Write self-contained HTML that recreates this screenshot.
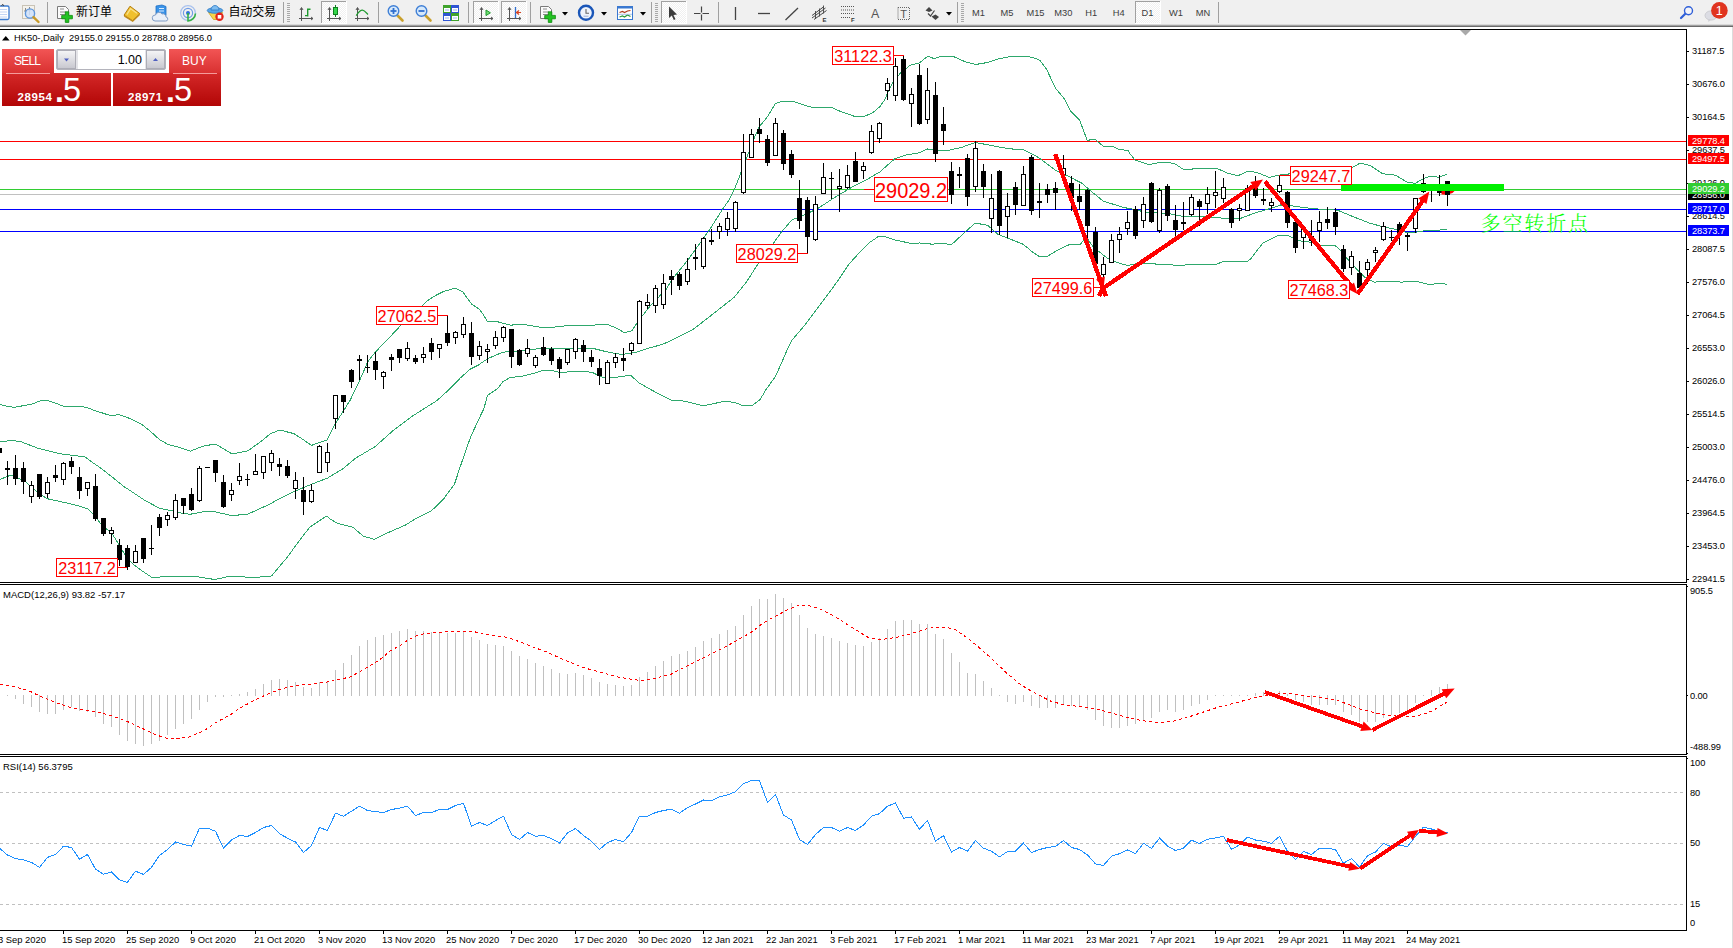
<!DOCTYPE html>
<html lang="zh"><head><meta charset="utf-8"><title>HK50-,Daily</title><style>
html,body{margin:0;padding:0;background:#fff}
body{width:1733px;height:948px;position:relative;overflow:hidden;font-family:"Liberation Sans","Noto Sans CJK SC",sans-serif;color:#000}
.ax{position:absolute;font-size:9.3px;line-height:11px;white-space:nowrap;letter-spacing:-0.1px;transform:scaleY(1.05);transform-origin:0 55%}
.it{position:absolute;font-size:9.5px;line-height:11px;white-space:nowrap;transform:scaleY(1.04);transform-origin:0 55%}
.dt{position:absolute;font-size:9.4px;line-height:11px;white-space:nowrap;transform:scaleY(1.03);transform-origin:0 55%}
.pl{position:absolute;left:1688px;width:41px;height:11px;line-height:12px;font-size:9.3px;color:#fff;text-indent:4px;white-space:nowrap;letter-spacing:-0.1px}
.rl{position:absolute;border:1px solid #ff0000;background:#fff;color:#ff0000;white-space:nowrap;overflow:visible}
.rl span{position:absolute;left:calc(50% + 0.4px);top:0.8px;white-space:nowrap}
.cn{position:absolute;background:#ff0000}
.cjk{position:absolute;font-family:"Liberation Serif","Noto Serif CJK SC",serif;font-weight:300;font-size:20px;line-height:30px;color:#00ff00;white-space:nowrap;letter-spacing:1.9px}

#tb{position:absolute;left:0;top:0;width:1733px;height:24px;background:#f0f0f0}
#tbl{position:absolute;left:0;top:24px;width:1733px;height:3px;background:linear-gradient(#d9d9d9 0,#d9d9d9 33%,#a0a0a0 33%,#a0a0a0 66%,#6a6a6a 66%)}
.tt{position:absolute;top:5px;font-size:12px;line-height:14px;color:#000;white-space:nowrap;font-family:"Liberation Sans","Noto Sans CJK SC",sans-serif}
.tf{position:absolute;top:7px;font-size:9.3px;line-height:12px;color:#3c3c3c;white-space:nowrap;text-align:center;width:30px}
.ttl{position:absolute;left:14px;top:32px;font-size:9.35px;line-height:12px;white-space:nowrap}
#sell,#buy{position:absolute;color:#fff}
.rtop{position:absolute;top:49px;height:25px;background:linear-gradient(#f25555,#d82f2f)}
.rbot{position:absolute;top:73px;height:33px;background:linear-gradient(#d42828,#b20606)}
.bs{position:absolute;top:55px;font-size:12px;line-height:12px;color:#fff;white-space:nowrap}
.pr{position:absolute;top:91px;font-size:11.5px;font-weight:bold;line-height:12px;color:#fff;white-space:nowrap;letter-spacing:0.55px}
.big{position:absolute;top:73px;font-size:32.5px;line-height:34px;color:#fff;white-space:nowrap}
.dot{position:absolute;top:84.6px;font-size:32px;font-weight:bold;line-height:12px;color:#fff}
</style></head><body>
<svg width="1733" height="948" viewBox="0 0 1733 948" style="position:absolute;left:0;top:0"><g shape-rendering="crispEdges">
<rect x="0" y="194" width="1686" height="1" fill="#c0c0c0"/>
<rect x="0" y="141" width="1686" height="1" fill="#ff0000"/>
<rect x="0" y="159" width="1686" height="1" fill="#ff0000"/>
<rect x="0" y="189" width="1686" height="1" fill="#32cd32"/>
<rect x="0" y="209" width="1686" height="1" fill="#0000ff"/>
<rect x="0" y="231" width="1686" height="1" fill="#0000ff"/>
</g>
<polyline points="0,404.4 8,406.5 15,407.3 24,405.5 31,404.4 40,401 46,400 55,403 63,406 80,406 88,408 95,410.6 111.7,416 118,414.4 130,418.5 141,423.8 150,431 160,440 168,444.4 180,447.5 190.4,451.3 198,448 205.5,445.6 215.5,444.1 224,449 232,454 240,452.5 248,450.7 256,445 263,440 270,434 277,431 280,430.1 293.8,433.6 303,439.5 311.4,445.4 319,442.5 327,440.2 331,432 335.2,423.8 342.8,411.9 350.3,400 355,390 360.3,379 367.9,361.5 375.4,352 388,339 400.5,325.7 411,316 422,305.8 428.9,299.5 436.4,295.1 443.9,291.3 455.2,288.2 462.8,292 466.5,297 471.5,303.9 479,308.9 482.8,313.9 487.2,321.2 495.4,321.2 510.4,325.2 521.7,324.2 543,327.7 554.4,327.1 570.7,325.2 592,325.2 607,324.2 617,328.4 624.3,332.7 632,330.8 637,322.9 643,315 651,305 660.7,295 665.7,290 671.4,280.3 687.7,260.2 700.3,242.7 710.3,228.6 722.9,208.8 729,200 735,187.9 741.4,171.5 747.7,155.2 753,141 759,127 767.8,116.3 775.3,103.8 781.6,101.3 792.9,101.3 806.7,106 813,107.5 831.8,107.5 841.8,112 854.4,116.3 864.4,116.3 872.7,112.8 880,106.5 884.5,100 887.8,92.7 894,80.2 900.3,73.3 910.4,65.1 919,63.2 928,56 934,58.6 941.7,56.3 953,56.3 965.6,62 975.6,64.5 987,62.6 999.5,58.6 1012,56.2 1026.4,56.3 1035.1,58.2 1040.2,60.7 1046.4,68.9 1055.2,87.7 1064,98.4 1070.9,111.5 1079.7,120.3 1087.2,140.4 1094.8,139.1 1103.5,146.4 1112.3,146.4 1118.6,149.2 1128,150.6 1130,153.8 1135,160 1148.8,164.5 1161.4,162.3 1174,163.2 1184,169.9 1200.3,168.2 1216.6,168.2 1227.9,173.3 1237.9,175.8 1248,171.1 1256.8,172.4 1269.3,177.4 1279.4,175.1 1289.4,173.9 1300,173 1320,172 1340,171 1350.8,168.2 1360.2,163.1 1370.3,165.6 1382.8,173.8 1395.4,175.1 1407.9,182.6 1415.5,183.2 1423,178.8 1430.5,176.1 1439.3,177.3 1446.8,174.1" fill="none" stroke="#2ea86c" stroke-width="1" shape-rendering="crispEdges"/>
<polyline points="0,441.9 10,440.6 20,441.3 37.5,448.1 60,453.8 80,456.3 85,456.9 92.5,462.6 100,467.5 111.4,476.4 125,487.5 127.7,489 145,500.5 160,508.5 173,510.9 183,513.4 190,514.3 202.5,511.9 213,511.3 232,515.7 248,514 268,505 280,498.5 292.5,492.2 311.4,484.3 327.7,478 342.8,468.8 355.3,458.4 375.4,446.4 393,430.7 413,415.7 429.3,405.4 436.9,400.6 448.2,390.4 460.5,377.8 470.3,369.1 477.8,365.4 487.9,358.5 502.9,352.2 513,351.3 525.5,350.3 543,348.2 555,348.7 575,348.4 593,348.4 605.5,351.5 621.8,354.6 636.9,352 648,348.4 663,344.2 680.8,335.8 692.7,329.7 707.2,318.5 722.9,306.2 734.2,297.3 746.7,281.6 758,264 773,243.9 781.9,231.4 791.9,220 805.7,214.4 818.3,208.2 830.8,200 838,195.4 850.6,187.9 863.2,181.6 879.5,172.2 894.5,159 907,154.6 917,153.3 920,152.6 927.5,149 936.3,150.7 950,150 961.8,147.3 975.2,142.5 987.8,144.8 1007.8,148.6 1024,150 1037,156.7 1040.5,159 1055.5,170.2 1070.6,177.4 1082,183.3 1093,192.8 1103,201 1107.8,202.5 1120.8,206.6 1125.4,207.8 1134.2,209.4 1146.3,212.5 1167.7,213.3 1182.7,216.3 1205.3,216.5 1225.4,218.4 1240.4,218.4 1255.5,212.8 1270.6,208.4 1280.6,205 1291.9,205.9 1305.7,207.8 1318.3,209 1337.6,210.2 1352.7,216.5 1370.3,223.4 1381.6,226.3 1392.9,228.8 1406.7,232.5 1415.5,232.2 1426.8,230.3 1435,230.3 1441.8,229.9 1446.8,229" fill="none" stroke="#2ea86c" stroke-width="1" shape-rendering="crispEdges"/>
<polyline points="0,479.4 11,475 25,481.3 40,494.4 47.5,498.8 65,502.6 77.7,505.7 87.7,509 95.2,516.4 102.8,526.4 111.5,532.7 117.8,542.8 125.3,555.3 132.9,564 140.4,569.7 151.7,577.3 170.5,576.6 195.6,576.4 214.5,579.5 228.3,576.6 257,577.3 271.6,576 279,567 286.9,557.7 298,542.5 309.7,527.2 322,519 327,516 330,519 337.6,523.4 352.9,527.2 363,536 374.5,539.4 385.9,533.6 406.2,524.7 415,519 431.9,510.4 444.4,497.9 454.5,484 460.7,465.3 470.8,436.4 480.8,415 483.8,409 487.5,395.4 495,390.4 497.3,389 502.9,381.7 510.4,377.3 520.5,376.7 533,373.5 543,370.4 551.9,370.4 560.6,372.7 573.2,371.4 585.7,371.4 593.3,372.9 600.8,376.7 605.5,377.6 618,377 630.6,375.3 639.4,383.1 655.7,392.3 670.8,400 680,400.5 690.6,402.6 703.2,405.7 713.8,403.6 725.4,401.1 734.9,402.6 743.3,405.7 751.8,405.7 760.2,399.4 766.5,388.8 775,377.2 781.3,363.5 787.6,348.7 791.9,340.3 804.5,325.5 817.2,308.6 829.9,291.8 840.4,277 848.8,264.3 859.4,252.7 870,242.2 878.4,236.5 884.7,236.5 895.3,240 910,243.2 920,243 932.5,244.2 941.3,243 951.4,244.8 964,233 975.2,223 987.8,225.4 997.8,234.2 1010.4,239.2 1023,244.2 1029.2,249 1030,250.2 1038.8,256.2 1047.6,256.2 1057.6,250.2 1070.2,244.2 1080.2,244.2 1086.5,237.5 1092.8,246.4 1100.3,252.7 1107.8,258.4 1117.9,262.8 1127.9,265.5 1137.9,263.4 1155.5,264 1168,264 1175.6,265.5 1193.2,264.6 1215.7,264.6 1222,262 1247,261.9 1250.5,259 1263,242.9 1278,235.6 1288,235.4 1297,240.4 1310.7,242.3 1324,246 1335,245.3 1341.4,251.6 1349,260.7 1357.8,270.3 1365.4,277.7 1374.2,282.1 1388,281.5 1401.8,282.1 1415.6,281.2 1429.4,284.6 1439.4,283.3 1447,284.3" fill="none" stroke="#2ea86c" stroke-width="1" shape-rendering="crispEdges"/>
<g shape-rendering="crispEdges" fill="#000">
<rect x="0" y="448" width="2" height="5"/>
<rect x="7" y="461" width="1" height="24"/><rect x="5" y="468" width="5" height="2"/>
<rect x="15" y="455" width="1" height="30"/><rect x="13" y="468" width="5" height="11"/>
<rect x="23" y="462" width="1" height="32"/><rect x="21" y="468" width="5" height="14"/>
<rect x="31" y="481" width="1" height="22"/><rect x="29" y="485" width="5" height="12"/><rect x="30" y="486" width="3" height="10" fill="#fff"/>
<rect x="39" y="474" width="1" height="25"/><rect x="37" y="474" width="5" height="23"/>
<rect x="47" y="477" width="1" height="21"/><rect x="45" y="482" width="5" height="12"/><rect x="46" y="483" width="3" height="10" fill="#fff"/>
<rect x="55" y="465" width="1" height="17"/><rect x="53" y="475" width="5" height="3"/>
<rect x="63" y="462" width="1" height="23"/><rect x="61" y="463" width="5" height="17"/><rect x="62" y="464" width="3" height="15" fill="#fff"/>
<rect x="71" y="457" width="1" height="17"/><rect x="69" y="461" width="5" height="6"/>
<rect x="79" y="467" width="1" height="32"/><rect x="77" y="477" width="5" height="14"/>
<rect x="87" y="482" width="1" height="14"/><rect x="85" y="482" width="5" height="7"/><rect x="86" y="483" width="3" height="5" fill="#fff"/>
<rect x="95" y="474" width="1" height="47"/><rect x="93" y="486" width="5" height="33"/>
<rect x="103" y="518" width="1" height="18"/><rect x="101" y="518" width="5" height="16"/>
<rect x="111" y="527" width="1" height="17"/><rect x="109" y="530" width="5" height="4"/><rect x="110" y="531" width="3" height="2" fill="#fff"/>
<rect x="119" y="539" width="1" height="27"/><rect x="117" y="545" width="5" height="15"/>
<rect x="127" y="545" width="1" height="25"/><rect x="125" y="548" width="5" height="19"/>
<rect x="135" y="545" width="1" height="18"/><rect x="133" y="551" width="5" height="12"/><rect x="134" y="552" width="3" height="10" fill="#fff"/>
<rect x="143" y="538" width="1" height="25"/><rect x="141" y="538" width="5" height="21"/>
<rect x="151" y="525" width="1" height="30"/><rect x="149" y="548" width="5" height="1"/>
<rect x="159" y="514" width="1" height="22"/><rect x="157" y="517" width="5" height="11"/>
<rect x="167" y="512" width="1" height="14"/><rect x="165" y="515" width="5" height="5"/><rect x="166" y="516" width="3" height="3" fill="#fff"/>
<rect x="175" y="494" width="1" height="26"/><rect x="173" y="500" width="5" height="18"/><rect x="174" y="501" width="3" height="16" fill="#fff"/>
<rect x="183" y="498" width="1" height="16"/><rect x="181" y="498" width="5" height="8"/>
<rect x="191" y="488" width="1" height="23"/><rect x="189" y="494" width="5" height="16"/>
<rect x="199" y="466" width="1" height="36"/><rect x="197" y="468" width="5" height="33"/><rect x="198" y="469" width="3" height="31" fill="#fff"/>
<rect x="207" y="467" width="1" height="1"/><rect x="205" y="467" width="5" height="1"/>
<rect x="215" y="460" width="1" height="22"/><rect x="213" y="460" width="5" height="13"/>
<rect x="223" y="475" width="1" height="33"/><rect x="221" y="482" width="5" height="25"/>
<rect x="231" y="483" width="1" height="18"/><rect x="229" y="490" width="5" height="5"/><rect x="230" y="491" width="3" height="3" fill="#fff"/>
<rect x="239" y="463" width="1" height="22"/><rect x="237" y="476" width="5" height="5"/><rect x="238" y="477" width="3" height="3" fill="#fff"/>
<rect x="247" y="474" width="1" height="12"/><rect x="245" y="479" width="5" height="1"/>
<rect x="255" y="454" width="1" height="21"/><rect x="253" y="471" width="5" height="4"/><rect x="254" y="472" width="3" height="2" fill="#fff"/>
<rect x="263" y="456" width="1" height="23"/><rect x="261" y="456" width="5" height="17"/><rect x="262" y="457" width="3" height="15" fill="#fff"/>
<rect x="271" y="450" width="1" height="21"/><rect x="269" y="453" width="5" height="10"/><rect x="270" y="454" width="3" height="8" fill="#fff"/>
<rect x="279" y="458" width="1" height="18"/><rect x="277" y="464" width="5" height="3"/>
<rect x="287" y="460" width="1" height="18"/><rect x="285" y="466" width="5" height="10"/>
<rect x="295" y="472" width="1" height="27"/><rect x="293" y="480" width="5" height="9"/><rect x="294" y="481" width="3" height="7" fill="#fff"/>
<rect x="303" y="477" width="1" height="38"/><rect x="301" y="490" width="5" height="12"/>
<rect x="311" y="484" width="1" height="19"/><rect x="309" y="490" width="5" height="12"/><rect x="310" y="491" width="3" height="10" fill="#fff"/>
<rect x="319" y="445" width="1" height="28"/><rect x="317" y="446" width="5" height="27"/><rect x="318" y="447" width="3" height="25" fill="#fff"/>
<rect x="327" y="443" width="1" height="29"/><rect x="325" y="452" width="5" height="11"/><rect x="326" y="453" width="3" height="9" fill="#fff"/>
<rect x="335" y="395" width="1" height="34"/><rect x="333" y="395" width="5" height="24"/><rect x="334" y="396" width="3" height="22" fill="#fff"/>
<rect x="343" y="395" width="1" height="18"/><rect x="341" y="395" width="5" height="7"/>
<rect x="351" y="369" width="1" height="19"/><rect x="349" y="370" width="5" height="12"/>
<rect x="359" y="355" width="1" height="25"/><rect x="357" y="359" width="5" height="2"/>
<rect x="367" y="355" width="1" height="18"/><rect x="365" y="367" width="5" height="1"/>
<rect x="375" y="352" width="1" height="28"/><rect x="373" y="361" width="5" height="9"/>
<rect x="383" y="371" width="1" height="18"/><rect x="381" y="372" width="5" height="5"/><rect x="382" y="373" width="3" height="3" fill="#fff"/>
<rect x="391" y="354" width="1" height="17"/><rect x="389" y="357" width="5" height="3"/>
<rect x="399" y="349" width="1" height="14"/><rect x="397" y="349" width="5" height="9"/>
<rect x="407" y="342" width="1" height="19"/><rect x="405" y="348" width="5" height="11"/><rect x="406" y="349" width="3" height="9" fill="#fff"/>
<rect x="415" y="355" width="1" height="9"/><rect x="413" y="358" width="5" height="4"/>
<rect x="423" y="347" width="1" height="16"/><rect x="421" y="354" width="5" height="4"/><rect x="422" y="355" width="3" height="2" fill="#fff"/>
<rect x="431" y="338" width="1" height="22"/><rect x="429" y="343" width="5" height="9"/>
<rect x="439" y="344" width="1" height="14"/><rect x="437" y="344" width="5" height="5"/><rect x="438" y="345" width="3" height="3" fill="#fff"/>
<rect x="447" y="315" width="1" height="31"/><rect x="445" y="333" width="5" height="10"/>
<rect x="455" y="331" width="1" height="13"/><rect x="453" y="332" width="5" height="6"/><rect x="454" y="333" width="3" height="4" fill="#fff"/>
<rect x="463" y="317" width="1" height="21"/><rect x="461" y="324" width="5" height="11"/><rect x="462" y="325" width="3" height="9" fill="#fff"/>
<rect x="471" y="322" width="1" height="43"/><rect x="469" y="333" width="5" height="24"/>
<rect x="479" y="341" width="1" height="19"/><rect x="477" y="346" width="5" height="10"/><rect x="478" y="347" width="3" height="8" fill="#fff"/>
<rect x="487" y="344" width="1" height="19"/><rect x="485" y="349" width="5" height="3"/><rect x="486" y="350" width="3" height="1" fill="#fff"/>
<rect x="495" y="331" width="1" height="18"/><rect x="493" y="337" width="5" height="9"/><rect x="494" y="338" width="3" height="7" fill="#fff"/>
<rect x="503" y="326" width="1" height="16"/><rect x="501" y="327" width="5" height="11"/><rect x="502" y="328" width="3" height="9" fill="#fff"/>
<rect x="511" y="329" width="1" height="39"/><rect x="509" y="329" width="5" height="28"/>
<rect x="519" y="349" width="1" height="17"/><rect x="517" y="350" width="5" height="15"/>
<rect x="527" y="339" width="1" height="18"/><rect x="525" y="348" width="5" height="6"/><rect x="526" y="349" width="3" height="4" fill="#fff"/>
<rect x="535" y="355" width="1" height="13"/><rect x="533" y="357" width="5" height="9"/><rect x="534" y="358" width="3" height="7" fill="#fff"/>
<rect x="543" y="337" width="1" height="19"/><rect x="541" y="347" width="5" height="8"/>
<rect x="551" y="347" width="1" height="18"/><rect x="549" y="349" width="5" height="12"/>
<rect x="559" y="357" width="1" height="21"/><rect x="557" y="359" width="5" height="10"/>
<rect x="567" y="349" width="1" height="16"/><rect x="565" y="349" width="5" height="14"/><rect x="566" y="350" width="3" height="12" fill="#fff"/>
<rect x="575" y="338" width="1" height="21"/><rect x="573" y="339" width="5" height="13"/><rect x="574" y="340" width="3" height="11" fill="#fff"/>
<rect x="583" y="340" width="1" height="22"/><rect x="581" y="345" width="5" height="7"/>
<rect x="591" y="350" width="1" height="17"/><rect x="589" y="357" width="5" height="5"/>
<rect x="599" y="359" width="1" height="26"/><rect x="597" y="368" width="5" height="8"/>
<rect x="607" y="360" width="1" height="24"/><rect x="605" y="362" width="5" height="22"/><rect x="606" y="363" width="3" height="20" fill="#fff"/>
<rect x="615" y="353" width="1" height="15"/><rect x="613" y="357" width="5" height="6"/><rect x="614" y="358" width="3" height="4" fill="#fff"/>
<rect x="623" y="348" width="1" height="23"/><rect x="621" y="358" width="5" height="3"/>
<rect x="631" y="342" width="1" height="13"/><rect x="629" y="343" width="5" height="8"/><rect x="630" y="344" width="3" height="6" fill="#fff"/>
<rect x="639" y="300" width="1" height="44"/><rect x="637" y="301" width="5" height="43"/><rect x="638" y="302" width="3" height="41" fill="#fff"/>
<rect x="647" y="294" width="1" height="15"/><rect x="645" y="302" width="5" height="4"/><rect x="646" y="303" width="3" height="2" fill="#fff"/>
<rect x="655" y="285" width="1" height="28"/><rect x="653" y="288" width="5" height="18"/><rect x="654" y="289" width="3" height="16" fill="#fff"/>
<rect x="663" y="274" width="1" height="35"/><rect x="661" y="283" width="5" height="22"/><rect x="662" y="284" width="3" height="20" fill="#fff"/>
<rect x="671" y="270" width="1" height="25"/><rect x="669" y="276" width="5" height="4"/>
<rect x="679" y="272" width="1" height="18"/><rect x="677" y="274" width="5" height="12"/>
<rect x="687" y="258" width="1" height="27"/><rect x="685" y="269" width="5" height="13"/><rect x="686" y="270" width="3" height="11" fill="#fff"/>
<rect x="695" y="244" width="1" height="26"/><rect x="693" y="257" width="5" height="2"/>
<rect x="703" y="237" width="1" height="32"/><rect x="701" y="238" width="5" height="29"/><rect x="702" y="239" width="3" height="27" fill="#fff"/>
<rect x="711" y="229" width="1" height="16"/><rect x="709" y="240" width="5" height="2"/>
<rect x="719" y="223" width="1" height="16"/><rect x="717" y="226" width="5" height="6"/><rect x="718" y="227" width="3" height="4" fill="#fff"/>
<rect x="727" y="212" width="1" height="24"/><rect x="725" y="218" width="5" height="12"/><rect x="726" y="219" width="3" height="10" fill="#fff"/>
<rect x="735" y="201" width="1" height="31"/><rect x="733" y="202" width="5" height="27"/><rect x="734" y="203" width="3" height="25" fill="#fff"/>
<rect x="743" y="134" width="1" height="60"/><rect x="741" y="152" width="5" height="41"/><rect x="742" y="153" width="3" height="39" fill="#fff"/>
<rect x="751" y="129" width="1" height="29"/><rect x="749" y="134" width="5" height="24"/><rect x="750" y="135" width="3" height="22" fill="#fff"/>
<rect x="759" y="118" width="1" height="25"/><rect x="757" y="129" width="5" height="5"/>
<rect x="767" y="135" width="1" height="31"/><rect x="765" y="139" width="5" height="24"/>
<rect x="775" y="118" width="1" height="38"/><rect x="773" y="123" width="5" height="33"/><rect x="774" y="124" width="3" height="31" fill="#fff"/>
<rect x="783" y="130" width="1" height="40"/><rect x="781" y="133" width="5" height="31"/>
<rect x="791" y="150" width="1" height="28"/><rect x="789" y="154" width="5" height="21"/>
<rect x="799" y="180" width="1" height="49"/><rect x="797" y="198" width="5" height="23"/>
<rect x="807" y="197" width="1" height="57"/><rect x="805" y="200" width="5" height="37"/>
<rect x="815" y="196" width="1" height="45"/><rect x="813" y="204" width="5" height="36"/><rect x="814" y="205" width="3" height="34" fill="#fff"/>
<rect x="823" y="163" width="1" height="31"/><rect x="821" y="177" width="5" height="17"/><rect x="822" y="178" width="3" height="15" fill="#fff"/>
<rect x="831" y="172" width="1" height="27"/><rect x="829" y="178" width="5" height="1"/>
<rect x="839" y="169" width="1" height="43"/><rect x="837" y="186" width="5" height="3"/><rect x="838" y="187" width="3" height="1" fill="#fff"/>
<rect x="847" y="165" width="1" height="24"/><rect x="845" y="175" width="5" height="13"/><rect x="846" y="176" width="3" height="11" fill="#fff"/>
<rect x="855" y="152" width="1" height="30"/><rect x="853" y="161" width="5" height="21"/>
<rect x="863" y="162" width="1" height="17"/><rect x="861" y="166" width="5" height="5"/><rect x="862" y="167" width="3" height="3" fill="#fff"/>
<rect x="871" y="125" width="1" height="29"/><rect x="869" y="131" width="5" height="22"/><rect x="870" y="132" width="3" height="20" fill="#fff"/>
<rect x="879" y="122" width="1" height="21"/><rect x="877" y="123" width="5" height="16"/><rect x="878" y="124" width="3" height="14" fill="#fff"/>
<rect x="887" y="78" width="1" height="22"/><rect x="885" y="83" width="5" height="8"/><rect x="886" y="84" width="3" height="6" fill="#fff"/>
<rect x="895" y="58" width="1" height="43"/><rect x="893" y="66" width="5" height="30"/><rect x="894" y="67" width="3" height="28" fill="#fff"/>
<rect x="903" y="55" width="1" height="46"/><rect x="901" y="59" width="5" height="41"/>
<rect x="911" y="88" width="1" height="39"/><rect x="909" y="94" width="5" height="10"/><rect x="910" y="95" width="3" height="8" fill="#fff"/>
<rect x="919" y="64" width="1" height="61"/><rect x="917" y="75" width="5" height="49"/>
<rect x="927" y="68" width="1" height="56"/><rect x="925" y="90" width="5" height="30"/><rect x="926" y="91" width="3" height="28" fill="#fff"/>
<rect x="935" y="82" width="1" height="80"/><rect x="933" y="95" width="5" height="59"/>
<rect x="943" y="107" width="1" height="38"/><rect x="941" y="124" width="5" height="7"/>
<rect x="951" y="162" width="1" height="42"/><rect x="949" y="171" width="5" height="24"/>
<rect x="959" y="167" width="1" height="21"/><rect x="957" y="174" width="5" height="2"/>
<rect x="967" y="154" width="1" height="52"/><rect x="965" y="158" width="5" height="39"/>
<rect x="975" y="141" width="1" height="51"/><rect x="973" y="148" width="5" height="39"/><rect x="974" y="149" width="3" height="37" fill="#fff"/>
<rect x="983" y="164" width="1" height="34"/><rect x="981" y="171" width="5" height="16"/>
<rect x="991" y="174" width="1" height="59"/><rect x="989" y="198" width="5" height="21"/><rect x="990" y="199" width="3" height="19" fill="#fff"/>
<rect x="999" y="170" width="1" height="65"/><rect x="997" y="171" width="5" height="55"/>
<rect x="1007" y="193" width="1" height="45"/><rect x="1005" y="206" width="5" height="11"/><rect x="1006" y="207" width="3" height="9" fill="#fff"/>
<rect x="1015" y="182" width="1" height="33"/><rect x="1013" y="187" width="5" height="18"/>
<rect x="1023" y="166" width="1" height="40"/><rect x="1021" y="174" width="5" height="32"/><rect x="1022" y="175" width="3" height="30" fill="#fff"/>
<rect x="1031" y="155" width="1" height="60"/><rect x="1029" y="157" width="5" height="54"/>
<rect x="1039" y="183" width="1" height="35"/><rect x="1037" y="201" width="5" height="2"/>
<rect x="1047" y="184" width="1" height="19"/><rect x="1045" y="189" width="5" height="6"/>
<rect x="1055" y="182" width="1" height="28"/><rect x="1053" y="188" width="5" height="5"/>
<rect x="1063" y="155" width="1" height="20"/><rect x="1061" y="168" width="5" height="7"/><rect x="1062" y="169" width="3" height="5" fill="#fff"/>
<rect x="1071" y="176" width="1" height="35"/><rect x="1069" y="183" width="5" height="15"/>
<rect x="1079" y="184" width="1" height="26"/><rect x="1077" y="196" width="5" height="6"/>
<rect x="1087" y="189" width="1" height="50"/><rect x="1085" y="190" width="5" height="36"/>
<rect x="1095" y="227" width="1" height="44"/><rect x="1093" y="232" width="5" height="32"/>
<rect x="1103" y="257" width="1" height="31"/><rect x="1101" y="264" width="5" height="11"/><rect x="1102" y="265" width="3" height="9" fill="#fff"/>
<rect x="1111" y="234" width="1" height="29"/><rect x="1109" y="240" width="5" height="23"/><rect x="1110" y="241" width="3" height="21" fill="#fff"/>
<rect x="1119" y="227" width="1" height="26"/><rect x="1117" y="234" width="5" height="6"/><rect x="1118" y="235" width="3" height="4" fill="#fff"/>
<rect x="1127" y="211" width="1" height="24"/><rect x="1125" y="222" width="5" height="7"/><rect x="1126" y="223" width="3" height="5" fill="#fff"/>
<rect x="1135" y="206" width="1" height="33"/><rect x="1133" y="209" width="5" height="27"/>
<rect x="1143" y="197" width="1" height="31"/><rect x="1141" y="204" width="5" height="17"/><rect x="1142" y="205" width="3" height="15" fill="#fff"/>
<rect x="1151" y="182" width="1" height="41"/><rect x="1149" y="183" width="5" height="39"/>
<rect x="1159" y="188" width="1" height="45"/><rect x="1157" y="190" width="5" height="41"/><rect x="1158" y="191" width="3" height="39" fill="#fff"/>
<rect x="1167" y="184" width="1" height="37"/><rect x="1165" y="186" width="5" height="30"/>
<rect x="1175" y="205" width="1" height="37"/><rect x="1173" y="220" width="5" height="10"/>
<rect x="1183" y="202" width="1" height="28"/><rect x="1181" y="222" width="5" height="2"/>
<rect x="1191" y="194" width="1" height="22"/><rect x="1189" y="197" width="5" height="18"/><rect x="1190" y="198" width="3" height="16" fill="#fff"/>
<rect x="1199" y="199" width="1" height="27"/><rect x="1197" y="201" width="5" height="6"/>
<rect x="1207" y="187" width="1" height="27"/><rect x="1205" y="194" width="5" height="10"/><rect x="1206" y="195" width="3" height="8" fill="#fff"/>
<rect x="1215" y="171" width="1" height="37"/><rect x="1213" y="192" width="5" height="4"/><rect x="1214" y="193" width="3" height="2" fill="#fff"/>
<rect x="1223" y="178" width="1" height="25"/><rect x="1221" y="187" width="5" height="12"/><rect x="1222" y="188" width="3" height="10" fill="#fff"/>
<rect x="1231" y="208" width="1" height="20"/><rect x="1229" y="209" width="5" height="14"/>
<rect x="1239" y="204" width="1" height="17"/><rect x="1237" y="208" width="5" height="3"/><rect x="1238" y="209" width="3" height="1" fill="#fff"/>
<rect x="1247" y="185" width="1" height="26"/><rect x="1245" y="188" width="5" height="23"/><rect x="1246" y="189" width="3" height="21" fill="#fff"/>
<rect x="1255" y="176" width="1" height="22"/><rect x="1253" y="188" width="5" height="8"/>
<rect x="1263" y="188" width="1" height="17"/><rect x="1261" y="199" width="5" height="2"/>
<rect x="1271" y="198" width="1" height="14"/><rect x="1269" y="202" width="5" height="4"/><rect x="1270" y="203" width="3" height="2" fill="#fff"/>
<rect x="1279" y="175" width="1" height="18"/><rect x="1277" y="185" width="5" height="7"/><rect x="1278" y="186" width="3" height="5" fill="#fff"/>
<rect x="1287" y="191" width="1" height="37"/><rect x="1285" y="192" width="5" height="31"/>
<rect x="1295" y="220" width="1" height="33"/><rect x="1293" y="222" width="5" height="26"/>
<rect x="1303" y="227" width="1" height="22"/><rect x="1301" y="228" width="5" height="10"/><rect x="1302" y="229" width="3" height="8" fill="#fff"/>
<rect x="1311" y="220" width="1" height="26"/><rect x="1309" y="236" width="5" height="5"/><rect x="1310" y="237" width="3" height="3" fill="#fff"/>
<rect x="1319" y="211" width="1" height="31"/><rect x="1317" y="222" width="5" height="9"/><rect x="1318" y="223" width="3" height="7" fill="#fff"/>
<rect x="1327" y="207" width="1" height="22"/><rect x="1325" y="219" width="5" height="4"/>
<rect x="1335" y="208" width="1" height="27"/><rect x="1333" y="212" width="5" height="15"/>
<rect x="1343" y="245" width="1" height="27"/><rect x="1341" y="249" width="5" height="20"/>
<rect x="1351" y="251" width="1" height="24"/><rect x="1349" y="256" width="5" height="12"/><rect x="1350" y="257" width="3" height="10" fill="#fff"/>
<rect x="1359" y="261" width="1" height="28"/><rect x="1357" y="273" width="5" height="15"/>
<rect x="1367" y="259" width="1" height="25"/><rect x="1365" y="262" width="5" height="8"/><rect x="1366" y="263" width="3" height="6" fill="#fff"/>
<rect x="1375" y="247" width="1" height="15"/><rect x="1373" y="250" width="5" height="3"/><rect x="1374" y="251" width="3" height="1" fill="#fff"/>
<rect x="1383" y="222" width="1" height="19"/><rect x="1381" y="226" width="5" height="14"/><rect x="1382" y="227" width="3" height="12" fill="#fff"/>
<rect x="1391" y="230" width="1" height="11"/><rect x="1389" y="237" width="5" height="1"/>
<rect x="1399" y="222" width="1" height="23"/><rect x="1397" y="224" width="5" height="10"/>
<rect x="1407" y="233" width="1" height="18"/><rect x="1405" y="235" width="5" height="2"/>
<rect x="1415" y="198" width="1" height="35"/><rect x="1413" y="198" width="5" height="31"/><rect x="1414" y="199" width="3" height="29" fill="#fff"/>
<rect x="1423" y="174" width="1" height="19"/><rect x="1421" y="183" width="5" height="9"/><rect x="1422" y="184" width="3" height="7" fill="#fff"/>
<rect x="1431" y="184" width="1" height="18"/><rect x="1429" y="185" width="5" height="6"/><rect x="1430" y="186" width="3" height="4" fill="#fff"/>
<rect x="1439" y="175" width="1" height="21"/><rect x="1437" y="186" width="5" height="7"/>
</g>
<path d="M1441.5 190.5 L1455 190.5 L1452.5 193 L1447 194.8 L1441.5 194.6 Z" fill="#ff0000"/>
<g shape-rendering="crispEdges" fill="#000"><rect x="1447" y="181" width="1" height="25"/><rect x="1445" y="181" width="5" height="14"/></g>
<rect x="1341" y="184" width="163" height="7" fill="#00f000" shape-rendering="crispEdges"/>
<g shape-rendering="crispEdges" fill="#c0c0c0">
<rect x="7" y="695" width="1" height="1"/>
<rect x="15" y="695" width="1" height="4"/>
<rect x="23" y="695" width="1" height="9"/>
<rect x="31" y="695" width="1" height="12"/>
<rect x="39" y="695" width="1" height="17"/>
<rect x="47" y="695" width="1" height="19"/>
<rect x="55" y="695" width="1" height="19"/>
<rect x="63" y="695" width="1" height="15"/>
<rect x="71" y="695" width="1" height="12"/>
<rect x="79" y="695" width="1" height="16"/>
<rect x="87" y="695" width="1" height="17"/>
<rect x="95" y="695" width="1" height="22"/>
<rect x="103" y="695" width="1" height="29"/>
<rect x="111" y="695" width="1" height="32"/>
<rect x="119" y="695" width="1" height="40"/>
<rect x="127" y="695" width="1" height="46"/>
<rect x="135" y="695" width="1" height="49"/>
<rect x="143" y="695" width="1" height="51"/>
<rect x="151" y="695" width="1" height="49"/>
<rect x="159" y="695" width="1" height="46"/>
<rect x="167" y="695" width="1" height="40"/>
<rect x="175" y="695" width="1" height="34"/>
<rect x="183" y="695" width="1" height="29"/>
<rect x="191" y="695" width="1" height="24"/>
<rect x="199" y="695" width="1" height="15"/>
<rect x="207" y="695" width="1" height="7"/>
<rect x="215" y="695" width="1" height="2"/>
<rect x="223" y="695" width="1" height="2"/>
<rect x="231" y="695" width="1" height="1"/>
<rect x="239" y="694" width="1" height="2"/>
<rect x="247" y="692" width="1" height="4"/>
<rect x="255" y="689" width="1" height="7"/>
<rect x="263" y="684" width="1" height="12"/>
<rect x="271" y="680" width="1" height="16"/>
<rect x="279" y="679" width="1" height="17"/>
<rect x="287" y="680" width="1" height="16"/>
<rect x="295" y="682" width="1" height="14"/>
<rect x="303" y="687" width="1" height="9"/>
<rect x="311" y="688" width="1" height="8"/>
<rect x="319" y="682" width="1" height="14"/>
<rect x="327" y="681" width="1" height="15"/>
<rect x="335" y="670" width="1" height="26"/>
<rect x="343" y="663" width="1" height="33"/>
<rect x="351" y="655" width="1" height="41"/>
<rect x="359" y="646" width="1" height="50"/>
<rect x="367" y="640" width="1" height="56"/>
<rect x="375" y="637" width="1" height="59"/>
<rect x="383" y="635" width="1" height="61"/>
<rect x="391" y="633" width="1" height="63"/>
<rect x="399" y="631" width="1" height="65"/>
<rect x="407" y="629" width="1" height="67"/>
<rect x="415" y="631" width="1" height="65"/>
<rect x="423" y="631" width="1" height="65"/>
<rect x="431" y="632" width="1" height="64"/>
<rect x="439" y="633" width="1" height="63"/>
<rect x="447" y="633" width="1" height="63"/>
<rect x="455" y="633" width="1" height="63"/>
<rect x="463" y="632" width="1" height="64"/>
<rect x="471" y="637" width="1" height="59"/>
<rect x="479" y="640" width="1" height="56"/>
<rect x="487" y="644" width="1" height="52"/>
<rect x="495" y="645" width="1" height="51"/>
<rect x="503" y="646" width="1" height="50"/>
<rect x="511" y="651" width="1" height="45"/>
<rect x="519" y="656" width="1" height="40"/>
<rect x="527" y="659" width="1" height="37"/>
<rect x="535" y="663" width="1" height="33"/>
<rect x="543" y="666" width="1" height="30"/>
<rect x="551" y="669" width="1" height="27"/>
<rect x="559" y="673" width="1" height="23"/>
<rect x="567" y="674" width="1" height="22"/>
<rect x="575" y="673" width="1" height="23"/>
<rect x="583" y="675" width="1" height="21"/>
<rect x="591" y="678" width="1" height="18"/>
<rect x="599" y="682" width="1" height="14"/>
<rect x="607" y="684" width="1" height="12"/>
<rect x="615" y="685" width="1" height="11"/>
<rect x="623" y="686" width="1" height="10"/>
<rect x="631" y="685" width="1" height="11"/>
<rect x="639" y="677" width="1" height="19"/>
<rect x="647" y="672" width="1" height="24"/>
<rect x="655" y="666" width="1" height="30"/>
<rect x="663" y="661" width="1" height="35"/>
<rect x="671" y="656" width="1" height="40"/>
<rect x="679" y="654" width="1" height="42"/>
<rect x="687" y="651" width="1" height="45"/>
<rect x="695" y="647" width="1" height="49"/>
<rect x="703" y="641" width="1" height="55"/>
<rect x="711" y="638" width="1" height="58"/>
<rect x="719" y="634" width="1" height="62"/>
<rect x="727" y="630" width="1" height="66"/>
<rect x="735" y="626" width="1" height="70"/>
<rect x="743" y="615" width="1" height="81"/>
<rect x="751" y="606" width="1" height="90"/>
<rect x="759" y="599" width="1" height="97"/>
<rect x="767" y="599" width="1" height="97"/>
<rect x="775" y="594" width="1" height="102"/>
<rect x="783" y="598" width="1" height="98"/>
<rect x="791" y="603" width="1" height="93"/>
<rect x="799" y="615" width="1" height="81"/>
<rect x="807" y="628" width="1" height="68"/>
<rect x="815" y="634" width="1" height="62"/>
<rect x="823" y="636" width="1" height="60"/>
<rect x="831" y="638" width="1" height="58"/>
<rect x="839" y="641" width="1" height="55"/>
<rect x="847" y="643" width="1" height="53"/>
<rect x="855" y="645" width="1" height="51"/>
<rect x="863" y="646" width="1" height="50"/>
<rect x="871" y="642" width="1" height="54"/>
<rect x="879" y="638" width="1" height="58"/>
<rect x="887" y="629" width="1" height="67"/>
<rect x="895" y="621" width="1" height="75"/>
<rect x="903" y="620" width="1" height="76"/>
<rect x="911" y="620" width="1" height="76"/>
<rect x="919" y="624" width="1" height="72"/>
<rect x="927" y="624" width="1" height="72"/>
<rect x="935" y="634" width="1" height="62"/>
<rect x="943" y="639" width="1" height="57"/>
<rect x="951" y="653" width="1" height="43"/>
<rect x="959" y="662" width="1" height="34"/>
<rect x="967" y="673" width="1" height="23"/>
<rect x="975" y="674" width="1" height="22"/>
<rect x="983" y="681" width="1" height="15"/>
<rect x="991" y="688" width="1" height="8"/>
<rect x="999" y="695" width="1" height="1"/>
<rect x="1007" y="695" width="1" height="7"/>
<rect x="1015" y="695" width="1" height="9"/>
<rect x="1023" y="695" width="1" height="7"/>
<rect x="1031" y="695" width="1" height="11"/>
<rect x="1039" y="695" width="1" height="13"/>
<rect x="1047" y="695" width="1" height="13"/>
<rect x="1055" y="695" width="1" height="13"/>
<rect x="1063" y="695" width="1" height="9"/>
<rect x="1071" y="695" width="1" height="11"/>
<rect x="1079" y="695" width="1" height="11"/>
<rect x="1087" y="695" width="1" height="15"/>
<rect x="1095" y="695" width="1" height="25"/>
<rect x="1103" y="695" width="1" height="31"/>
<rect x="1111" y="695" width="1" height="33"/>
<rect x="1119" y="695" width="1" height="33"/>
<rect x="1127" y="695" width="1" height="31"/>
<rect x="1135" y="695" width="1" height="29"/>
<rect x="1143" y="695" width="1" height="25"/>
<rect x="1151" y="695" width="1" height="23"/>
<rect x="1159" y="695" width="1" height="17"/>
<rect x="1167" y="695" width="1" height="15"/>
<rect x="1175" y="695" width="1" height="17"/>
<rect x="1183" y="695" width="1" height="15"/>
<rect x="1191" y="695" width="1" height="11"/>
<rect x="1199" y="695" width="1" height="9"/>
<rect x="1207" y="695" width="1" height="5"/>
<rect x="1215" y="695" width="1" height="1"/>
<rect x="1223" y="695" width="1" height="1"/>
<rect x="1231" y="695" width="1" height="1"/>
<rect x="1239" y="695" width="1" height="1"/>
<rect x="1247" y="695" width="1" height="1"/>
<rect x="1255" y="693" width="1" height="3"/>
<rect x="1263" y="692" width="1" height="4"/>
<rect x="1271" y="692" width="1" height="4"/>
<rect x="1279" y="691" width="1" height="5"/>
<rect x="1287" y="694" width="1" height="2"/>
<rect x="1295" y="695" width="1" height="5"/>
<rect x="1303" y="695" width="1" height="7"/>
<rect x="1311" y="695" width="1" height="10"/>
<rect x="1319" y="695" width="1" height="10"/>
<rect x="1327" y="695" width="1" height="10"/>
<rect x="1335" y="695" width="1" height="10"/>
<rect x="1343" y="695" width="1" height="17"/>
<rect x="1351" y="695" width="1" height="20"/>
<rect x="1359" y="695" width="1" height="27"/>
<rect x="1367" y="695" width="1" height="27"/>
<rect x="1375" y="695" width="1" height="27"/>
<rect x="1383" y="695" width="1" height="23"/>
<rect x="1391" y="695" width="1" height="20"/>
<rect x="1399" y="695" width="1" height="18"/>
<rect x="1407" y="695" width="1" height="15"/>
<rect x="1415" y="695" width="1" height="8"/>
<rect x="1423" y="695" width="1" height="1"/>
<rect x="1431" y="690" width="1" height="6"/>
<rect x="1439" y="687" width="1" height="9"/>
<rect x="1447" y="684" width="1" height="12"/>
</g>
<polyline points="0,684.4 15,687 30,691.2 40,696.2 55,702.4 70,707.4 85,710.4 100,712.4 110,715.4 125,720.4 140,727.4 155,734.4 165,737.9 175,738.9 190,736.9 205,730 215,723 230,715 240,708 255,700 270,693 280,689.4 295,685.4 310,684.4 325,682.4 335,680.4 350,677 365,668.7 380,659.4 390,651.2 400,645.5 410,638.7 420,634.5 433,632.5 453,631.5 473,631.5 488,634.5 508,637.5 518,641.2 533,647 548,652.5 563,659.5 583,667.5 603,673 618,677 633,679.5 640.5,680.5 653,678.7 670.5,674.5 683,668 698,660.5 713,653 728,645.5 743,637 753,631.2 763,623 775.5,616.2 788,609.5 798,605.5 808,605.5 818,608 833,615.5 848,625 858,631.2 866,636.2 868.5,637.5 881,639.5 896,637.5 911,633.7 926,629 936,627 946,627 956,630 966,637 978.5,647 991,658 1006,672.5 1021,685 1036,693.7 1051,701.2 1066,705.4 1081,706.4 1096,708.7 1111,713 1126,717 1141,720.4 1158.5,723 1173.5,721.2 1188.5,717 1203.5,712 1221,706.2 1236,703 1241.4,701.3 1248.3,699.5 1255.2,697.7 1262,696.3 1281.6,693.5 1291.2,693.5 1302.3,695.7 1314.8,696.7 1325.9,698.5 1334.2,699.5 1342.5,702.2 1350.8,705.4 1360.5,709.2 1370.2,711.5 1379.9,714 1391,715.4 1400.7,716.5 1409,717 1418.7,715.4 1427,713.3 1433.9,709.9 1440.8,705.7 1447,702.2" fill="none" stroke="#ff0000" stroke-width="1" stroke-dasharray="3,3" shape-rendering="crispEdges"/>
<g shape-rendering="crispEdges">
<line x1="0" y1="792.5" x2="1686" y2="792.5" stroke="#c0c0c0" stroke-width="1" stroke-dasharray="3,3"/>
<line x1="0" y1="843.5" x2="1686" y2="843.5" stroke="#c0c0c0" stroke-width="1" stroke-dasharray="3,3"/>
<line x1="0" y1="904.5" x2="1686" y2="904.5" stroke="#c0c0c0" stroke-width="1" stroke-dasharray="3,3"/>
</g>
<polyline points="0,848.7 7.5,855 15.5,858.7 23.5,859.9 31.5,862.4 39.5,867.4 47.5,857.4 55.5,854.5 63.5,846.2 71.5,847.5 79.5,859.2 87.5,854.5 95.5,869.2 103.5,874.2 111.5,871.9 119.5,879.9 127.5,882.4 135.5,871.2 143.5,874.4 151.5,867.4 159.5,855.4 167.5,849.5 175.5,842 183.5,844.5 191.5,846.2 199.5,828.2 207.5,828.2 215.5,831.2 223.5,848.2 231.5,840 239.5,835.5 247.5,836.5 255.5,832.5 263.5,827.5 271.5,825.5 279.5,833.7 287.5,838.2 295.5,842 303.5,852.5 311.5,845.5 319.5,827.5 327.5,830.5 335.5,813.2 343.5,816.2 351.5,811.2 359.5,806.2 367.5,810.5 375.5,811.7 383.5,812.5 391.5,809.5 399.5,808.2 407.5,806.2 415.5,815.5 423.5,812.5 431.5,812.5 439.5,809.5 447.5,809.5 455.5,805.5 463.5,803.2 471.5,826.2 479.5,822.5 487.5,825.5 495.5,820.5 503.5,816.2 511.5,834.5 519.5,839.5 527.5,832.5 535.5,836.2 543.5,835.5 551.5,838.7 559.5,843 567.5,833 575.5,828.5 583.5,835.5 591.5,841.2 599.5,849.5 607.5,842.5 615.5,839.5 623.5,841.7 631.5,832.5 639.5,816.2 647.5,816.2 655.5,812.5 663.5,810.5 671.5,809.2 679.5,813.2 687.5,807.5 695.5,804 703.5,800 711.5,800.7 719.5,796.7 727.5,795 735.5,791.7 743.5,783.7 751.5,780.5 759.5,780.5 767.5,802.5 775.5,794.5 783.5,815 791.5,820 799.5,839.5 807.5,844.5 815.5,834.5 823.5,827.5 831.5,827.5 839.5,831.2 847.5,827.5 855.5,830.5 863.5,825 871.5,816.2 879.5,813.7 887.5,806.2 895.5,803 903.5,818.2 911.5,817 919.5,829.2 927.5,820.5 935.5,841.2 943.5,835.5 951.5,852 959.5,847.5 967.5,851.2 975.5,840.5 983.5,848.2 991.5,851.2 999.5,856.9 1007.5,851.5 1015.5,851.2 1023.5,843.2 1031.5,852.5 1039.5,849.5 1047.5,847.5 1055.5,846.5 1063.5,840.5 1071.5,847.5 1079.5,849.5 1087.5,855 1095.5,863.9 1103.5,865.4 1111.5,856.2 1119.5,853.7 1127.5,850 1135.5,853.5 1143.5,843.2 1151.5,848.5 1159.5,838.2 1167.5,846.2 1175.5,850.5 1183.5,848.2 1191.5,840.2 1199.5,843.5 1207.5,839.3 1215.5,838 1223.5,836.4 1231.5,849.3 1239.5,844.9 1247.5,837.2 1255.5,840 1263.5,841.2 1271.5,843.3 1279.5,836.4 1287.5,851.4 1295.5,859.5 1303.5,851.4 1311.5,854.6 1319.5,848.1 1327.5,848.1 1335.5,849.6 1343.5,863.3 1351.5,858.5 1359.5,867 1367.5,855.7 1375.5,852 1383.5,843.3 1391.5,846.9 1399.5,845.2 1407.5,846.5 1415.5,836.4 1423.5,827.1 1431.5,829 1439.5,831.5 1447.5,833" fill="none" stroke="#1e90ff" stroke-width="1" shape-rendering="crispEdges"/>
<line x1="1055.2" y1="154.2" x2="1105.9" y2="296.1" stroke="#ff0000" stroke-width="4.3" shape-rendering="crispEdges"/>
<line x1="1102.8" y1="288.3" x2="1099" y2="296.1" stroke="#ff0000" stroke-width="4.3" shape-rendering="crispEdges"/>
<polygon points="1096.1,279.5 1104.9,276.4 1103.6,288" fill="#ff0000"/>
<line x1="1102.6" y1="288.5" x2="1257" y2="183.7" stroke="#ff0000" stroke-width="4.3" shape-rendering="crispEdges"/>
<polygon points="1263,179.5 1255.9,190.4 1250.3,182.1" fill="#ff0000"/>
<line x1="1264.9" y1="181.4" x2="1354" y2="289.5" stroke="#ff0000" stroke-width="4.3" shape-rendering="crispEdges"/>
<polygon points="1357.5,294 1347,288.4 1354,282.6" fill="#ff0000"/>
<line x1="1357.5" y1="294" x2="1424" y2="199" stroke="#ff0000" stroke-width="4.3" shape-rendering="crispEdges"/>
<polygon points="1429.3,191.4 1426.5,204.1 1418.3,198.4" fill="#ff0000"/>
<line x1="1264.9" y1="692.1" x2="1366" y2="727.8" stroke="#ff0000" stroke-width="3.8" shape-rendering="crispEdges"/>
<polygon points="1372.3,730 1360.3,731.1 1363.6,721.6" fill="#ff0000"/>
<line x1="1372.3" y1="730" x2="1448" y2="691.7" stroke="#ff0000" stroke-width="3.8" shape-rendering="crispEdges"/>
<polygon points="1454.7,688.4 1446.2,698.3 1441.7,689.3" fill="#ff0000"/>
<line x1="1226.7" y1="840" x2="1354" y2="867.4" stroke="#ff0000" stroke-width="3.8" shape-rendering="crispEdges"/>
<polygon points="1360,868.7 1348.3,870.8 1350.2,862" fill="#ff0000"/>
<line x1="1360" y1="868.7" x2="1413" y2="833.5" stroke="#ff0000" stroke-width="3.8" shape-rendering="crispEdges"/>
<polygon points="1418.9,829.9 1412.5,840.1 1407,831.8" fill="#ff0000"/>
<line x1="1418.9" y1="830.7" x2="1441" y2="832.8" stroke="#ff0000" stroke-width="3.8" shape-rendering="crispEdges"/>
<polygon points="1448,833.4 1436.6,836.9 1437.5,827.9" fill="#ff0000"/>
<g shape-rendering="crispEdges" fill="#000">
<rect x="0" y="29" width="1687" height="1"/>
<rect x="1686" y="29" width="1" height="902"/>
<rect x="0" y="582" width="1687" height="1"/>
<rect x="0" y="583" width="1687" height="1" fill="#fff"/>
<rect x="0" y="584" width="1687" height="1"/>
<rect x="0" y="754" width="1687" height="1"/>
<rect x="0" y="755" width="1687" height="1" fill="#fff"/>
<rect x="0" y="756" width="1687" height="1"/>
<rect x="0" y="930" width="1687" height="1"/>
<rect x="1687" y="51" width="2" height="1"/>
<rect x="1687" y="84" width="2" height="1"/>
<rect x="1687" y="117" width="2" height="1"/>
<rect x="1687" y="150" width="2" height="1"/>
<rect x="1687" y="183" width="2" height="1"/>
<rect x="1687" y="216" width="2" height="1"/>
<rect x="1687" y="249" width="2" height="1"/>
<rect x="1687" y="282" width="2" height="1"/>
<rect x="1687" y="315" width="2" height="1"/>
<rect x="1687" y="348" width="2" height="1"/>
<rect x="1687" y="381" width="2" height="1"/>
<rect x="1687" y="414" width="2" height="1"/>
<rect x="1687" y="447" width="2" height="1"/>
<rect x="1687" y="480" width="2" height="1"/>
<rect x="1687" y="513" width="2" height="1"/>
<rect x="1687" y="546" width="2" height="1"/>
<rect x="1687" y="579" width="2" height="1"/>
<rect x="1687" y="586" width="1" height="1"/>
<rect x="1687" y="695" width="1" height="1"/>
<rect x="1687" y="753" width="1" height="1"/>
<rect x="1687" y="758" width="1" height="1"/>
<rect x="63" y="931" width="1" height="3"/>
<rect x="127" y="931" width="1" height="3"/>
<rect x="191" y="931" width="1" height="3"/>
<rect x="255" y="931" width="1" height="3"/>
<rect x="319" y="931" width="1" height="3"/>
<rect x="383" y="931" width="1" height="3"/>
<rect x="447" y="931" width="1" height="3"/>
<rect x="511" y="931" width="1" height="3"/>
<rect x="575" y="931" width="1" height="3"/>
<rect x="639" y="931" width="1" height="3"/>
<rect x="703" y="931" width="1" height="3"/>
<rect x="767" y="931" width="1" height="3"/>
<rect x="831" y="931" width="1" height="3"/>
<rect x="895" y="931" width="1" height="3"/>
<rect x="959" y="931" width="1" height="3"/>
<rect x="1023" y="931" width="1" height="3"/>
<rect x="1087" y="931" width="1" height="3"/>
<rect x="1151" y="931" width="1" height="3"/>
<rect x="1215" y="931" width="1" height="3"/>
<rect x="1279" y="931" width="1" height="3"/>
<rect x="1343" y="931" width="1" height="3"/>
<rect x="1407" y="931" width="1" height="3"/>
</g>
<polygon points="1460,30 1471,30 1465.5,35.5" fill="#a9a9a9"/>
<rect x="1732" y="27" width="1" height="921" fill="#dcdcdc"/></svg>
<div class="cn" style="left:894px;top:55px;width:10px;height:1px"></div>
<div class="cn" style="left:438px;top:315px;width:10px;height:1px"></div>
<div class="cn" style="left:798px;top:253px;width:10px;height:1px"></div>
<div class="cn" style="left:118px;top:567px;width:9px;height:1px"></div>
<div class="cn" style="left:1094px;top:287px;width:8px;height:1px"></div>
<div class="cn" style="left:1279px;top:175px;width:11px;height:1px"></div>
<div class="cn" style="left:864px;top:189px;width:10px;height:1px"></div>
<div class="ax" style="left:1692px;top:46.05px;">31187.5</div>
<div class="ax" style="left:1692px;top:79.05px;">30676.0</div>
<div class="ax" style="left:1692px;top:112.05px;">30164.5</div>
<div class="ax" style="left:1692px;top:145.05px;">29637.5</div>
<div class="ax" style="left:1692px;top:178.05px;">29126.0</div>
<div class="ax" style="left:1692px;top:211.05px;">28614.5</div>
<div class="ax" style="left:1692px;top:244.05px;">28087.5</div>
<div class="ax" style="left:1692px;top:277.05px;">27576.0</div>
<div class="ax" style="left:1692px;top:310.05px;">27064.5</div>
<div class="ax" style="left:1692px;top:343.05px;">26553.0</div>
<div class="ax" style="left:1692px;top:376.05px;">26026.0</div>
<div class="ax" style="left:1692px;top:409.05px;">25514.5</div>
<div class="ax" style="left:1692px;top:442.05px;">25003.0</div>
<div class="ax" style="left:1692px;top:475.05px;">24476.0</div>
<div class="ax" style="left:1692px;top:508.05px;">23964.5</div>
<div class="ax" style="left:1692px;top:541.05px;">23453.0</div>
<div class="ax" style="left:1692px;top:574.05px;">22941.5</div>
<div class="ax" style="left:1690px;top:586.1px;">905.5</div>
<div class="ax" style="left:1690px;top:690.5px;">0.00</div>
<div class="ax" style="left:1690px;top:742.2px;">-488.99</div>
<div class="ax" style="left:1690px;top:758.2px;">100</div>
<div class="ax" style="left:1690px;top:787.5px;">80</div>
<div class="ax" style="left:1690px;top:838.2px;">50</div>
<div class="ax" style="left:1690px;top:899.2px;">15</div>
<div class="ax" style="left:1690px;top:918.2px;">0</div>
<div class="pl" style="top:189px;background:#000">28956.0</div>
<div class="pl" style="top:135px;background:#ff0000">29778.4</div>
<div class="pl" style="top:153px;background:#ff0000">29497.5</div>
<div class="pl" style="top:183px;background:#32cd32">29029.2</div>
<div class="pl" style="top:203px;background:#0000ff">28717.0</div>
<div class="pl" style="top:225px;background:#0000ff">28373.7</div>
<div class="dt" style="left:-2px;top:934px;">3 Sep 2020</div>
<div class="dt" style="left:62px;top:934px;">15 Sep 2020</div>
<div class="dt" style="left:126px;top:934px;">25 Sep 2020</div>
<div class="dt" style="left:190px;top:934px;">9 Oct 2020</div>
<div class="dt" style="left:254px;top:934px;">21 Oct 2020</div>
<div class="dt" style="left:318px;top:934px;">3 Nov 2020</div>
<div class="dt" style="left:382px;top:934px;">13 Nov 2020</div>
<div class="dt" style="left:446px;top:934px;">25 Nov 2020</div>
<div class="dt" style="left:510px;top:934px;">7 Dec 2020</div>
<div class="dt" style="left:574px;top:934px;">17 Dec 2020</div>
<div class="dt" style="left:638px;top:934px;">30 Dec 2020</div>
<div class="dt" style="left:702px;top:934px;">12 Jan 2021</div>
<div class="dt" style="left:766px;top:934px;">22 Jan 2021</div>
<div class="dt" style="left:830px;top:934px;">3 Feb 2021</div>
<div class="dt" style="left:894px;top:934px;">17 Feb 2021</div>
<div class="dt" style="left:958px;top:934px;">1 Mar 2021</div>
<div class="dt" style="left:1022px;top:934px;">11 Mar 2021</div>
<div class="dt" style="left:1086px;top:934px;">23 Mar 2021</div>
<div class="dt" style="left:1150px;top:934px;">7 Apr 2021</div>
<div class="dt" style="left:1214px;top:934px;">19 Apr 2021</div>
<div class="dt" style="left:1278px;top:934px;">29 Apr 2021</div>
<div class="dt" style="left:1342px;top:934px;">11 May 2021</div>
<div class="dt" style="left:1406px;top:934px;">24 May 2021</div>
<div class="it" style="left:3px;top:588.5px;">MACD(12,26,9) 93.82 -57.17</div>
<div class="it" style="left:3px;top:760.5px;">RSI(14) 56.3795</div>
<div class="rl" style="left:832px;top:46px;width:60px;height:17px;line-height:18.2px;font-size:16.8px"><span style="transform:translateX(-50%) scaleX(0.97)">31122.3</span></div>
<div class="rl" style="left:376px;top:306px;width:60px;height:17px;line-height:18.2px;font-size:16.8px"><span style="transform:translateX(-50%) scaleX(0.97)">27062.5</span></div>
<div class="rl" style="left:736px;top:244px;width:60px;height:17px;line-height:18.2px;font-size:16.8px"><span style="transform:translateX(-50%) scaleX(0.97)">28029.2</span></div>
<div class="rl" style="left:56px;top:558px;width:60px;height:17px;line-height:18.2px;font-size:16.8px"><span style="transform:translateX(-50%) scaleX(0.97)">23117.2</span></div>
<div class="rl" style="left:1032px;top:278px;width:60px;height:17px;line-height:18.2px;font-size:16.8px"><span style="transform:translateX(-50%) scaleX(0.97)">27499.6</span></div>
<div class="rl" style="left:1288px;top:280px;width:60px;height:17px;line-height:18.2px;font-size:16.8px"><span style="transform:translateX(-50%) scaleX(0.97)">27468.3</span></div>
<div class="rl" style="left:1290px;top:166px;width:60px;height:17px;line-height:18.2px;font-size:16.8px"><span style="transform:translateX(-50%) scaleX(0.97)">29247.7</span></div>
<div class="rl" style="left:874px;top:177px;width:72px;height:23px;line-height:24.2px;font-size:21.8px"><span style="transform:translateX(-50%) scaleX(0.915)">29029.2</span></div>
<div class="cjk" style="left:1480.5px;top:209px">多空转折点</div>
<div id="tb"></div><div id="tbl"></div>
<svg width="1733" height="27" viewBox="0 0 1733 27" style="position:absolute;left:0;top:0"><defs><pattern id="chk" width="2" height="2" patternUnits="userSpaceOnUse"><rect width="2" height="2" fill="#f0f0f0"/><rect width="1" height="1" fill="#fff"/><rect x="1" y="1" width="1" height="1" fill="#fff"/></pattern></defs><rect x="-6" y="6" width="15" height="13.5" rx="1.5" fill="#fff" stroke="#3b7bd0" stroke-width="1.3"/><g stroke="#c3d5f5" stroke-width="1"><path d="M-4 9.5H7M-4 12H7M-4 14.5H7M-4 17H7"/></g><path d="M1.5 6 L2.7 4.2 L3.9 6" stroke="#333" fill="none" stroke-width="0.8"/><rect x="22.5" y="5.5" width="12" height="13" fill="#f4f2ec" stroke="#c9c3b6"/><path d="M25.5 8v7M29.5 7v8M24 11h3M28 10h3" stroke="#8a8a8a" stroke-width="1"/><circle cx="30" cy="13.5" r="4.6" fill="#cfe2fb" fill-opacity="0.85" stroke="#5e96dc" stroke-width="1.4"/><path d="M33.5 17.2 L38.5 22" stroke="#c89a28" stroke-width="2.4" stroke-linecap="round"/><rect x="47" y="2" width="1" height="21" fill="#a0a0a0" shape-rendering="crispEdges"/><path d="M57.5 6.5 h8 l3 3 v9 h-11 z" fill="#fbfbfb" stroke="#7b7b7b" stroke-width="1"/><path d="M60 9h4M60 12h6M60 14.5h6" stroke="#8c8c8c" stroke-width="1"/><path d="M61.7 15.4 h3.6 v-3.6 h3.5 v3.6 h3.6 v3.4 h-3.6 v3.6 h-3.5 v-3.6 h-3.6 z" fill="#22c222" stroke="#0b8a0b" stroke-width="0.8"/><path d="M124 15.2 L130 6.2 L139.8 13.6 L132.6 20.6 Z" fill="#f0c02e" stroke="#b57f12" stroke-width="1"/><path d="M124 15.2 L132.6 20.6 L139.8 13.6 L139.8 15.2 L132.8 22 L124.2 16.8 Z" fill="#c08a1a"/><path d="M126.8 14.6 L130.6 8.6 L137 13.2" stroke="#f9e08a" fill="none" stroke-width="1.3"/><path d="M156 6 l6 -1 l4 1.5 v9 h-10 z" fill="#3a93e8" stroke="#1f6fc4" stroke-width="0.8"/><path d="M159 8.5h5M159 11h5" stroke="#d7ebff" stroke-width="1.2"/><path d="M155 21 a3 3 0 0 1 0.5 -6 a3.6 3.6 0 0 1 6.5 -1 a3 3 0 0 1 4 3 a2 2 0 0 1 -0.5 4 z" fill="#e9eff8" stroke="#7f9cc6" stroke-width="1"/><circle cx="188" cy="13" r="2" fill="#2f6fe0"/><circle cx="188" cy="13" r="4.6" fill="none" stroke="#6f9be6" stroke-width="1.2"/><circle cx="188" cy="13" r="7.4" fill="none" stroke="#a9c2ee" stroke-width="1.2"/><path d="M188 13 V21 A8 8 0 0 0 195.5 13.5" fill="none" stroke="#35b045" stroke-width="1.6"/><path d="M208.5 12.5 h14 l-3 7 h-6 z" fill="#f7d64a" stroke="#c9a21a" stroke-width="0.8"/><ellipse cx="215" cy="10.5" rx="7.8" ry="2.8" fill="#5aa6e6" stroke="#2c78c4" stroke-width="0.8"/><path d="M211 10 a4 4.5 0 0 1 8 0 z" fill="#7fbdf0" stroke="#2c78c4" stroke-width="0.8"/><circle cx="219.5" cy="16.8" r="4.2" fill="#e2231a"/><rect x="217.7" y="15" width="3.6" height="3.6" fill="#fff"/><rect x="283" y="2" width="1" height="21" fill="#a0a0a0" shape-rendering="crispEdges"/><rect x="287" y="3" width="3" height="1" fill="#a8a8a8" shape-rendering="crispEdges"/><rect x="287" y="5" width="3" height="1" fill="#a8a8a8" shape-rendering="crispEdges"/><rect x="287" y="7" width="3" height="1" fill="#a8a8a8" shape-rendering="crispEdges"/><rect x="287" y="9" width="3" height="1" fill="#a8a8a8" shape-rendering="crispEdges"/><rect x="287" y="11" width="3" height="1" fill="#a8a8a8" shape-rendering="crispEdges"/><rect x="287" y="13" width="3" height="1" fill="#a8a8a8" shape-rendering="crispEdges"/><rect x="287" y="15" width="3" height="1" fill="#a8a8a8" shape-rendering="crispEdges"/><rect x="287" y="17" width="3" height="1" fill="#a8a8a8" shape-rendering="crispEdges"/><rect x="287" y="19" width="3" height="1" fill="#a8a8a8" shape-rendering="crispEdges"/><rect x="287" y="21" width="3" height="1" fill="#a8a8a8" shape-rendering="crispEdges"/><g fill="#555" shape-rendering="crispEdges"><rect x="301" y="8" width="1" height="13"/><rect x="299" y="18" width="14" height="1"/></g><g stroke="#555" stroke-width="1" fill="none"><path d="M300 10 L301.5 7.5 L303 10 M311 17 L313 18.5 L311 20"/></g><path d="M307.7 8.6v8M307.7 9.3h2.8M305 15.6h2.7" stroke="#1e9a2e" stroke-width="1.4" fill="none"/><rect x="321" y="1" width="26" height="23" fill="url(#chk)" shape-rendering="crispEdges"/><rect x="321" y="1" width="26" height="1" fill="#a0a0a0" shape-rendering="crispEdges"/><rect x="321" y="1" width="1" height="23" fill="#a0a0a0" shape-rendering="crispEdges"/><rect x="346" y="1" width="1" height="23" fill="#fff" shape-rendering="crispEdges"/><rect x="321" y="23" width="26" height="1" fill="#fff" shape-rendering="crispEdges"/><g fill="#555" shape-rendering="crispEdges"><rect x="329" y="8" width="1" height="13"/><rect x="327" y="18" width="14" height="1"/></g><g stroke="#555" stroke-width="1" fill="none"><path d="M328 10 L329.5 7.5 L331 10 M339 17 L341 18.5 L339 20"/></g><path d="M335.5 5v12" stroke="#0f7f1f" stroke-width="1"/><rect x="333.5" y="7.5" width="4" height="7" fill="#33d64a" stroke="#0f7f1f" stroke-width="1"/><g fill="#555" shape-rendering="crispEdges"><rect x="357" y="8" width="1" height="13"/><rect x="355" y="18" width="14" height="1"/></g><g stroke="#555" stroke-width="1" fill="none"><path d="M356 10 L357.5 7.5 L359 10 M367 17 L369 18.5 L367 20"/></g><path d="M356.2 15.6 C358 13 360 10 362.5 10.2 C364.5 10.4 366 12.5 368 14.5" stroke="#1e9a2e" stroke-width="1.2" fill="none"/><rect x="378" y="2" width="1" height="21" fill="#a0a0a0" shape-rendering="crispEdges"/><path d="M397.5 15.5 L402.5 20.5" stroke="#c9a02c" stroke-width="2.6" stroke-linecap="round"/><circle cx="393.5" cy="11" r="5.3" fill="#d6e9fb" stroke="#3f7fd6" stroke-width="1.4"/><path d="M390.5 11h6" stroke="#2f6fcf" stroke-width="1.8"/><path d="M393.5 8v6" stroke="#2f6fcf" stroke-width="1.8"/><path d="M425.5 15.5 L430.5 20.5" stroke="#c9a02c" stroke-width="2.6" stroke-linecap="round"/><circle cx="421.5" cy="11" r="5.3" fill="#d6e9fb" stroke="#3f7fd6" stroke-width="1.4"/><path d="M418.5 11h6" stroke="#2f6fcf" stroke-width="1.8"/><rect x="443" y="5" width="8" height="8" fill="#3fa32c"/><rect x="451" y="5" width="8" height="8" fill="#2f55d4"/><rect x="443" y="13" width="8" height="8" fill="#2f55d4"/><rect x="451" y="13" width="8" height="8" fill="#3fa32c"/><g fill="#fff"><rect x="444" y="8" width="6" height="4"/><rect x="452" y="8" width="6" height="4"/><rect x="444" y="16" width="6" height="4"/><rect x="452" y="16" width="6" height="4"/></g><g fill="#9bb4ee"><rect x="445" y="9.5" width="4" height="1"/><rect x="453" y="9.5" width="4" height="1"/><rect x="445" y="17.5" width="4" height="1"/><rect x="453" y="17.5" width="4" height="1"/></g><rect x="468" y="2" width="1" height="21" fill="#a0a0a0" shape-rendering="crispEdges"/><rect x="473" y="1" width="26" height="23" fill="url(#chk)" shape-rendering="crispEdges"/><rect x="473" y="1" width="26" height="1" fill="#a0a0a0" shape-rendering="crispEdges"/><rect x="473" y="1" width="1" height="23" fill="#a0a0a0" shape-rendering="crispEdges"/><rect x="498" y="1" width="1" height="23" fill="#fff" shape-rendering="crispEdges"/><rect x="473" y="23" width="26" height="1" fill="#fff" shape-rendering="crispEdges"/><g fill="#555" shape-rendering="crispEdges"><rect x="481" y="8" width="1" height="13"/><rect x="479" y="18" width="14" height="1"/></g><g stroke="#555" stroke-width="1" fill="none"><path d="M480 10 L481.5 7.5 L483 10 M491 17 L493 18.5 L491 20"/></g><path d="M486 10 L490.4 12.8 L486 15.6 Z" fill="#6fdc6f" stroke="#1e9a2e" stroke-width="1"/><rect x="501" y="1" width="26" height="23" fill="url(#chk)" shape-rendering="crispEdges"/><rect x="501" y="1" width="26" height="1" fill="#a0a0a0" shape-rendering="crispEdges"/><rect x="501" y="1" width="1" height="23" fill="#a0a0a0" shape-rendering="crispEdges"/><rect x="526" y="1" width="1" height="23" fill="#fff" shape-rendering="crispEdges"/><rect x="501" y="23" width="26" height="1" fill="#fff" shape-rendering="crispEdges"/><g fill="#555" shape-rendering="crispEdges"><rect x="509" y="8" width="1" height="13"/><rect x="507" y="18" width="14" height="1"/></g><g stroke="#555" stroke-width="1" fill="none"><path d="M508 10 L509.5 7.5 L511 10 M519 17 L521 18.5 L519 20"/></g><path d="M515.5 7v11" stroke="#2f6fcf" stroke-width="1.3"/><path d="M521 12.5 H516.5 M519 10.5 L516.5 12.5 L519 14.5" stroke="#d8431f" stroke-width="1.2" fill="none"/><rect x="530" y="2" width="1" height="21" fill="#a0a0a0" shape-rendering="crispEdges"/><path d="M540.5 6.5 h8 l3 3 v9 h-11 z" fill="#fbfbfb" stroke="#7b7b7b" stroke-width="1"/><path d="M543 9h4M543 12h6M543 14.5h6" stroke="#8c8c8c" stroke-width="1"/><path d="M544.7 15.4 h3.6 v-3.6 h3.5 v3.6 h3.6 v3.4 h-3.6 v3.6 h-3.5 v-3.6 h-3.6 z" fill="#22c222" stroke="#0b8a0b" stroke-width="0.8"/><polygon points="562,12 568,12 565,15.5" fill="#000"/><circle cx="586" cy="12.8" r="7" fill="#eef3fb" stroke="#1a56b8" stroke-width="2.4"/><path d="M586 9V13.2H589" stroke="#666" stroke-width="1.1" fill="none"/><path d="M583.5 16.2h5" stroke="#9bb0d8" stroke-width="1"/><polygon points="601,12 607,12 604,15.5" fill="#000"/><rect x="617.5" y="6.5" width="15" height="13" fill="#fff" stroke="#3a78d0" stroke-width="1"/><rect x="617" y="6" width="16" height="2.5" fill="#3a78d0"/><path d="M619.5 12.5 l3 -1 l2 1 l3 -1.5 l3 -0.5" stroke="#b23a1a" stroke-width="1.2" fill="none"/><path d="M619.5 17 l3 -1 l2 1 l3 -2 l3 1.5" stroke="#2a9a3a" stroke-width="1.2" fill="none"/><path d="M618 14.3h14" stroke="#9ab7e6" stroke-width="0.8"/><polygon points="640,12 646,12 643,15.5" fill="#000"/><rect x="651" y="2" width="1" height="21" fill="#a0a0a0" shape-rendering="crispEdges"/><rect x="655" y="3" width="3" height="1" fill="#a8a8a8" shape-rendering="crispEdges"/><rect x="655" y="5" width="3" height="1" fill="#a8a8a8" shape-rendering="crispEdges"/><rect x="655" y="7" width="3" height="1" fill="#a8a8a8" shape-rendering="crispEdges"/><rect x="655" y="9" width="3" height="1" fill="#a8a8a8" shape-rendering="crispEdges"/><rect x="655" y="11" width="3" height="1" fill="#a8a8a8" shape-rendering="crispEdges"/><rect x="655" y="13" width="3" height="1" fill="#a8a8a8" shape-rendering="crispEdges"/><rect x="655" y="15" width="3" height="1" fill="#a8a8a8" shape-rendering="crispEdges"/><rect x="655" y="17" width="3" height="1" fill="#a8a8a8" shape-rendering="crispEdges"/><rect x="655" y="19" width="3" height="1" fill="#a8a8a8" shape-rendering="crispEdges"/><rect x="655" y="21" width="3" height="1" fill="#a8a8a8" shape-rendering="crispEdges"/><rect x="661" y="1" width="26" height="23" fill="url(#chk)" shape-rendering="crispEdges"/><rect x="661" y="1" width="26" height="1" fill="#a0a0a0" shape-rendering="crispEdges"/><rect x="661" y="1" width="1" height="23" fill="#a0a0a0" shape-rendering="crispEdges"/><rect x="686" y="1" width="1" height="23" fill="#fff" shape-rendering="crispEdges"/><rect x="661" y="23" width="26" height="1" fill="#fff" shape-rendering="crispEdges"/><path d="M669 6.5 L669 18 L671.8 15.6 L673.8 20 L675.5 19.2 L673.5 14.9 L677 14.6 Z" fill="#3c3c3c"/><path d="M701.5 6.5v14M694 13.5h15" stroke="#444" stroke-width="1.2"/><rect x="700.5" y="12.5" width="2" height="2" fill="#f0f0f0"/><rect x="718" y="2" width="1" height="21" fill="#a0a0a0" shape-rendering="crispEdges"/><path d="M735.5 7v13" stroke="#444" stroke-width="1.3"/><path d="M758 13.5h12" stroke="#444" stroke-width="1.3"/><path d="M785.5 20 L798 8" stroke="#444" stroke-width="1.3"/><g stroke="#444" stroke-width="1" fill="none"><path d="M812 15.5 L824 6.5M814 19.5 L826.5 10.5M812 18 L825.5 8"/><path d="M815.5 11v8M819.5 8.5v8M823.5 5.5v8" stroke-width="0.9"/></g><text x="822.6" y="21.6" font-family="Liberation Sans, sans-serif" font-size="6" font-weight="bold" fill="#333">E</text><path d="M841 6.5h14" stroke="#555" stroke-width="1" stroke-dasharray="1,1"/><path d="M841 10h14" stroke="#555" stroke-width="1" stroke-dasharray="1,1"/><path d="M841 13.5h14" stroke="#555" stroke-width="1" stroke-dasharray="1,1"/><path d="M841 17.5h9" stroke="#555" stroke-width="1" stroke-dasharray="1,1"/><text x="851" y="21.6" font-family="Liberation Sans, sans-serif" font-size="6" font-weight="bold" fill="#333">F</text><text x="871" y="18.3" font-family="Liberation Sans, sans-serif" font-size="12.5" fill="#555">A</text><rect x="898" y="7.5" width="11.5" height="12" fill="none" stroke="#666" stroke-width="1" stroke-dasharray="1,1"/><text x="900.2" y="18" font-family="Liberation Sans, sans-serif" font-size="11" fill="#555">T</text><path d="M925.5 10.5 L929 7 L932.5 10.5 L929 12 Z" fill="#444"/><path d="M931.5 16.5 L935.5 14.5 L939 17 L935.5 20 Z" fill="#444"/><path d="M928 13.5 L930.5 16 L934.5 10.5" stroke="#444" stroke-width="1.2" fill="none"/><polygon points="946,12 952,12 949,15.5" fill="#000"/><rect x="957" y="2" width="1" height="21" fill="#a0a0a0" shape-rendering="crispEdges"/><rect x="961" y="3" width="3" height="1" fill="#a8a8a8" shape-rendering="crispEdges"/><rect x="961" y="5" width="3" height="1" fill="#a8a8a8" shape-rendering="crispEdges"/><rect x="961" y="7" width="3" height="1" fill="#a8a8a8" shape-rendering="crispEdges"/><rect x="961" y="9" width="3" height="1" fill="#a8a8a8" shape-rendering="crispEdges"/><rect x="961" y="11" width="3" height="1" fill="#a8a8a8" shape-rendering="crispEdges"/><rect x="961" y="13" width="3" height="1" fill="#a8a8a8" shape-rendering="crispEdges"/><rect x="961" y="15" width="3" height="1" fill="#a8a8a8" shape-rendering="crispEdges"/><rect x="961" y="17" width="3" height="1" fill="#a8a8a8" shape-rendering="crispEdges"/><rect x="961" y="19" width="3" height="1" fill="#a8a8a8" shape-rendering="crispEdges"/><rect x="961" y="21" width="3" height="1" fill="#a8a8a8" shape-rendering="crispEdges"/><rect x="1135" y="1" width="26" height="23" fill="url(#chk)" shape-rendering="crispEdges"/><rect x="1135" y="1" width="26" height="1" fill="#a0a0a0" shape-rendering="crispEdges"/><rect x="1135" y="1" width="1" height="23" fill="#a0a0a0" shape-rendering="crispEdges"/><rect x="1160" y="1" width="1" height="23" fill="#fff" shape-rendering="crispEdges"/><rect x="1135" y="23" width="26" height="1" fill="#fff" shape-rendering="crispEdges"/><rect x="1218" y="2" width="1" height="21" fill="#a0a0a0" shape-rendering="crispEdges"/><circle cx="1688.5" cy="10.7" r="4" fill="#f4f4f8" stroke="#2f5fd8" stroke-width="1.4"/><path d="M1685.3 13.7 L1681 18" stroke="#2f5fd8" stroke-width="2.2" stroke-linecap="round"/><ellipse cx="1711" cy="15.5" rx="6" ry="4.6" fill="#dcdde4" stroke="#c5c6cc" stroke-width="0.8"/><path d="M1708 19 l0.5 3 l2.5 -2.5z" fill="#cfd0d6"/><circle cx="1719.4" cy="10.4" r="8.3" fill="#e0341f"/><text x="1715.7" y="15" font-family="Liberation Sans, sans-serif" font-size="12.5" fill="#fff">1</text></svg>
<div class="tt" style="left:76px">新订单</div>
<div class="tt" style="left:228.4px;letter-spacing:-0.1px">自动交易</div>
<div class="tf" style="left:963.5px">M1</div>
<div class="tf" style="left:992px">M5</div>
<div class="tf" style="left:1020.5px">M15</div>
<div class="tf" style="left:1048.3px">M30</div>
<div class="tf" style="left:1076.3px">H1</div>
<div class="tf" style="left:1103.7px">H4</div>
<div class="tf" style="left:1132.4px">D1</div>
<div class="tf" style="left:1161px">W1</div>
<div class="tf" style="left:1188px">MN</div>
<svg width="12" height="8" style="position:absolute;left:1px;top:34px"><polygon points="1,6.5 8.6,6.5 4.8,2" fill="#000"/></svg>
<div class="ttl">HK50-,Daily&nbsp; 29155.0 29155.0 28788.0 28956.0</div>
<div class="rtop" style="left:2px;width:52px"></div><div class="rbot" style="left:2px;width:109px"></div>
<div class="rtop" style="left:169px;width:52px"></div><div class="rbot" style="left:113px;width:108px"></div>
<div style="position:absolute;left:6px;top:73px;width:44px;height:1px;background:#f59a9a"></div><div style="position:absolute;left:173px;top:73px;width:44px;height:1px;background:#f59a9a"></div>
<div style="position:absolute;left:56px;top:49px;width:110px;height:21px;background:#e4e4e8;border:1px solid #b4b4bc;box-sizing:border-box;border-radius:2px"></div>
<div style="position:absolute;left:57px;top:50px;width:19px;height:19px;background:linear-gradient(#f4f4f6,#c9c9d0);border:1px solid #adadb6;box-sizing:border-box"></div>
<div style="position:absolute;left:146px;top:50px;width:19px;height:19px;background:linear-gradient(#f4f4f6,#c9c9d0);border:1px solid #adadb6;box-sizing:border-box"></div>
<div style="position:absolute;left:78px;top:50px;width:67px;height:19px;background:#fff;text-align:right;font-size:12.5px;line-height:19px;box-sizing:border-box;padding-right:3px;padding-top:1px">1.00</div>
<svg width="170" height="24" style="position:absolute;left:0;top:48px"><polygon points="64,10.5 69,10.5 66.5,13.5" fill="#5060c0"/><polygon points="153,13 158,13 155.5,10" fill="#5060c0"/></svg>
<div class="bs" style="left:14px;letter-spacing:-0.8px">SELL</div><div class="bs" style="left:182px">BUY</div>
<div class="pr" style="left:17.6px">28954</div><div class="pr" style="left:128px">28971</div>
<div class="dot" style="left:55px">.</div><div class="dot" style="left:166px">.</div>
<div class="big" style="left:63px">5</div><div class="big" style="left:174px">5</div>
</body></html>
